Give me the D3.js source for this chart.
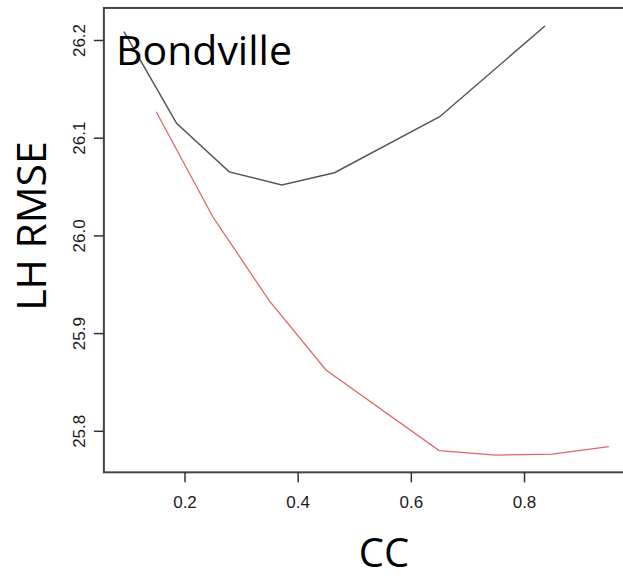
<!DOCTYPE html>
<html>
<head>
<meta charset="utf-8">
<script src="https://cdn.jsdelivr.net/npm/d3@7"></script>
<style>
  body { margin: 0; background: #fff; }
  svg { display: block; }
  .axis text { font-family: "Liberation Sans", Arial, sans-serif; font-size: 17px; fill: #1a1a1a; }
  .axis line { stroke: #333; stroke-width: 1.5; }
  .big { font-family: "Open Sans", "Noto Sans", sans-serif; fill: #000; }
</style>
</head>
<body>
<script>
var WIDTH = 623;
var HEIGHT = 578;

// black line
var cc1 = [0.093, 0.186, 0.279, 0.372, 0.465, 0.651, 0.837];
var rmse1 = [26.2085, 26.1147, 26.0650, 26.0516, 26.0642, 26.1215, 26.2143];

// red line
var cc2 = [0.15, 0.25, 0.35, 0.45, 0.65, 0.75, 0.85, 0.95];
var rmse2 = [26.1266, 26.0191, 25.9329, 25.8622, 25.7798, 25.7752, 25.7762, 25.7839];

var xTicks = [0.2, 0.4, 0.6, 0.8];
var yTicks = [25.8, 25.9, 26.0, 26.1, 26.2];

var translate = function (x, y) {
  return "translate(" + x + "," + y + ")";
};

var xScale = d3.scaleLinear()
    .domain([0.2, 0.8])
    .range([184.5, 524]);

var yScale = d3.scaleLinear()
    .domain([25.8, 26.2])
    .range([430.8, 40]);

// plot box edges (box runs off the right side of the picture)
var boxX0 = xScale(0.0575), boxX1 = xScale(0.98);
var boxY0 = yScale(26.2328), boxY1 = yScale(25.7575);

var line = d3.line()
    .x(function (d) { return xScale(d[0]); })
    .y(function (d) { return yScale(d[1]); });

var draw = function () {
  var svg = d3.select("body").append("svg")
      .attr("width", WIDTH)
      .attr("height", HEIGHT);

  svg.append("path")
      .attr("d", line(d3.zip(cc2, rmse2)))
      .attr("fill", "none")
      .attr("stroke", "#e06666")
      .attr("stroke-width", 1.3);

  svg.append("path")
      .attr("d", line(d3.zip(cc1, rmse1)))
      .attr("fill", "none")
      .attr("stroke", "#555")
      .attr("stroke-width", 1.5);

  svg.append("rect")
      .attr("x", boxX0)
      .attr("y", boxY0)
      .attr("width", boxX1 - boxX0)
      .attr("height", boxY1 - boxY0)
      .attr("fill", "none")
      .attr("stroke", "#444")
      .attr("stroke-width", 2);

  var xAxis = d3.axisBottom(xScale)
      .tickValues(xTicks)
      .tickSize(10)
      .tickPadding(14)
      .tickFormat(d3.format(".1f"));

  var gx = svg.append("g")
      .attr("class", "axis")
      .attr("transform", translate(0, boxY1))
      .call(xAxis);
  gx.select(".domain").remove();

  var yAxis = d3.axisLeft(yScale)
      .tickValues(yTicks)
      .tickSize(10)
      .tickFormat(d3.format(".1f"));

  var gy = svg.append("g")
      .attr("class", "axis")
      .attr("transform", translate(boxX0, 0))
      .call(yAxis);
  gy.select(".domain").remove();
  gy.selectAll("text")
      .attr("x", 0)
      .attr("dy", 0)
      .attr("text-anchor", "middle")
      .attr("transform", "translate(-19,0) rotate(-90)");

  svg.append("text")
      .attr("class", "big")
      .attr("x", 116)
      .attr("y", 65)
      .attr("font-size", 41)
      .text("Bondville");

  svg.append("text")
      .attr("class", "big")
      .attr("transform", translate(46, 226) + " rotate(-90)")
      .attr("text-anchor", "middle")
      .attr("font-size", 41)
      .text("LH RMSE");

  svg.append("text")
      .attr("class", "big")
      .attr("x", 384)
      .attr("y", 567)
      .attr("text-anchor", "middle")
      .attr("font-size", 40)
      .text("CC");
};

window.onload = draw;
</script>
</body>
</html>
